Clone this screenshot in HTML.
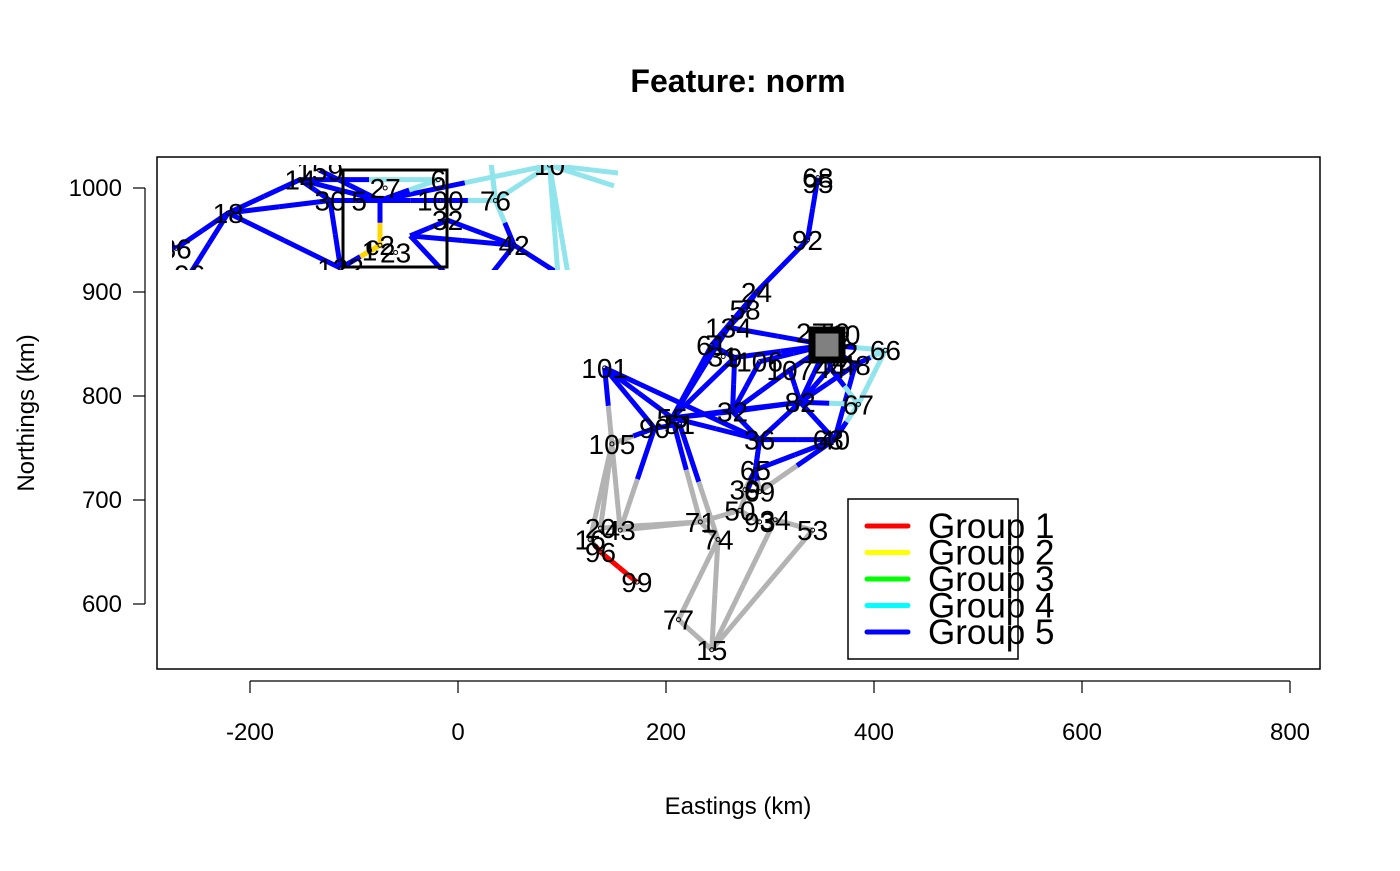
<!DOCTYPE html>
<html><head><meta charset="utf-8"><style>
body{margin:0;background:#fff}
svg text{font-family:"Liberation Sans",sans-serif}
</style></head><body>
<svg width="1400" height="866" xmlns="http://www.w3.org/2000/svg" id="chart">
<rect width="1400" height="866" fill="#fff"/>
<text x="738" y="92" text-anchor="middle" font-size="32" font-weight="bold">Feature: norm</text>
<g id="plot"></g>
<rect x="157" y="157" width="1163" height="512" fill="none" stroke="#000" stroke-width="1.5"/>
<g id="axes"></g>
<text x="738" y="814" text-anchor="middle" font-size="24">Eastings (km)</text>
<text transform="translate(34,413) rotate(-90)" text-anchor="middle" font-size="24">Northings (km)</text>
<g id="legend"></g>
</svg>
<script>
const xTicks=[-200,0,200,400,600,800];
const yTicks=[600,700,800,900,1000];
const groupColors=["#b3b3b3","#ff0000","#ffff00","#00ff00","#00ffff","#0000ff"];
const lineColors=["#b3b3b3","#ff0000","#ffd700","#00ff00","#90e4ec","#0000ff"];
const legendLabels=["Group 1","Group 2","Group 3","Group 4","Group 5"];
// main nodes
const nodeIds=["101","105","55","90","51","32","36","82","40","67","66","48","SQ","24","58","134","61","9","106","107","44","92","68","65","39","69","50","93","34","53","71","74","15","77","20","43","16","96","99","27","70","10","2","63","95","31","12"];
const nodeX=[141,148,206,189,213,264,290,329,362,385,411,382,355,287,276,260,244,266,290,319,358,336,346,286,276,290,271,290,305,341,233,250,244,212,137,156,127,137,172,340,362,372,366,356,346,255,370];
const nodeY=[827,754,779,769,773,785,758,794,758,792,844,830,849,900,883,866,849,837,833,825,827,950,1010,729,710,708,690,679,681,671,679,662,556,585,673,671,662,650,621,861,861,859,838,758,1005,838,842];
const nodeGroup=[5,0,5,5,5,5,5,5,5,4,4,5,5,5,5,5,5,5,5,5,5,5,5,5,0,0,0,0,0,0,0,0,0,0,0,0,0,1,1,5,5,5,5,5,5,5,5];
const edgeFrom=["101","101","101","55","55","55","55","55","55","32","32","32","32","36","36","36","82","82","82","40","90","61","134","58","24","92","9","106","107","44","48","48","48","SQ","61","134","32","66","66","66","67","67","82","105","105","105","101","90","20","43","71","71","74","77","77","15","15","34","93","39","69","69","55","51","50","96","99","65","90"];
const edgeTo=["55","90","36","32","36","82","9","134","61","9","82","36","106","82","40","65","40","44","107","65","105","24","58","24","92","68","SQ","SQ","SQ","SQ","SQ","40","82","82","9","SQ","107","SQ","48","67","40","44","67","20","43","16","105","43","71","71","50","74","15","15","74","34","53","53","50","65","65","40","71","74","65","16","96","36","51"];
// inset nodes
const insetIds=["18","30","14","36","42","76","32","100","6","122","10","c1","c2","c3","159","96","oA","oB","oC","oD","oE","oF","oG","oH","5","27","23","1"];
const insetX=[-221,-123,-152,-271,54,36,-10,-17,-19,-113,88,-75,-75,-46,-133,-258,137,175,98,12,-306,30,110,150,-95,-70,-60,-85];
const insetY=[976,988,1008,942,945,988,969,988,1008,923,1022,988,945,954,1017,917,892,1012,892,892,960,1040,892,1002,988,1000,938,940];
const insetGroup=[5,5,5,5,5,4,5,5,4,5,4,5,2,5,5,5,5,4,4,5,5,4,4,4,5,5,5,5];
const insetFrom=["36","18","18","18","18","14","30","42","42","42","42","10","10","10","10","76","76","c1","c1","c3","c2","159","122","36","30","6","oD","oF","10","10","c1","76","30","14"];
const insetTo=["18","14","30","122","96","c1","c1","32","c3","oA","oD","76","oB","oC","c1","100","42","c2","6","32","122","c1","c2","oE","122","c1","c3","76","oG","oH","100","oF","14","6"];

const sx=v=>458+1.04*v, sy=v=>188+(1000-v)*1.04;
const NS="http://www.w3.org/2000/svg";
function mk(t,a,p){const e=document.createElementNS(NS,t);for(const k in a)e.setAttribute(k,a[k]);p.appendChild(e);return e;}
const plot=document.getElementById('plot');
const defs=mk('defs',{},plot);
const cp=mk('clipPath',{id:'inclip'},defs);mk('rect',{x:172,y:165,width:446,height:105},cp);
const cp2=mk('clipPath',{id:'mclip'},defs);mk('rect',{x:157,y:157,width:1163,height:512},cp2);

function drawNet(ids,X,Y,G,F,T,parent,labelSkip,fs){
  const idx={};ids.forEach((d,i)=>idx[d]=i);
  F.forEach((f,k)=>{
    const a=idx[f],b=idx[T[k]];
    const x1=sx(X[a]),y1=sy(Y[a]),x2=sx(X[b]),y2=sy(Y[b]),mx=(x1+x2)/2,my=(y1+y2)/2;
    const l1=mk('line',{x1:x1,y1:y1,x2:mx,y2:my,stroke:lineColors[G[a]],'stroke-width':5},parent);
    
    
    const l2=mk('line',{x1:mx,y1:my,x2:x2,y2:y2,stroke:lineColors[G[b]],'stroke-width':5},parent);
    
    
  });
  ids.forEach((d,i)=>{
    if(labelSkip(d))return;
    const c=mk('circle',{cx:sx(X[i]),cy:sy(Y[i]),r:2,fill:'none',stroke:'#000','stroke-width':1},parent);
    
    
    const t=mk('text',{x:sx(X[i]),y:sy(Y[i])+10,'text-anchor':'middle','font-size':fs},parent);
    t.textContent=d;
    
    
  });
}
const mg=mk('g',{'clip-path':'url(#mclip)'},plot);
drawNet(nodeIds,nodeX,nodeY,nodeGroup,edgeFrom,edgeTo,mg,d=>d==="SQ",28);
const sq=mk('rect',{x:812,y:330,width:30,height:30,fill:'#808080',stroke:'#000','stroke-width':7},mg);


const ig=mk('g',{'clip-path':'url(#inclip)'},plot);
drawNet(insetIds,insetX,insetY,insetGroup,insetFrom,insetTo,ig,d=>d.startsWith('o')||d==='c1'||d==='c3',28);
const ib=mk('rect',{x:343,y:170,width:104,height:97,fill:'none',stroke:'#000','stroke-width':3},plot);



const ax=document.getElementById('axes');
mk('line',{x1:sx(-200),x2:sx(800),y1:681,y2:681,stroke:'#000','stroke-width':1.2},ax);
xTicks.forEach(v=>{
  mk('line',{x1:sx(v),x2:sx(v),y1:681,y2:693,stroke:'#000','stroke-width':1.2},ax);
  const t=mk('text',{x:sx(v),y:740,'text-anchor':'middle','font-size':24},ax);t.textContent=v;
  
  
});
mk('line',{x1:145,x2:145,y1:sy(600),y2:sy(1000),stroke:'#000','stroke-width':1.2},ax);
yTicks.forEach(v=>{
  mk('line',{x1:133,x2:145,y1:sy(v),y2:sy(v),stroke:'#000','stroke-width':1.2},ax);
  const t=mk('text',{x:122,y:sy(v)+8,'text-anchor':'end','font-size':24},ax);t.textContent=v;
  
  
});
const lg=document.getElementById('legend');
mk('rect',{x:848,y:499,width:170,height:160,fill:'#fff',stroke:'#000','stroke-width':1.5},lg);
legendLabels.forEach((s,i)=>{
  const y=526+i*26.5;
  const l=mk('line',{x1:867,x2:908,y1:y,y2:y,stroke:groupColors[i+1],'stroke-width':5,'stroke-linecap':'round'},lg);
  
  
  const t=mk('text',{x:928,y:y+12,'font-size':35},lg);t.textContent=s;
  
  
});
</script>
</body></html>
